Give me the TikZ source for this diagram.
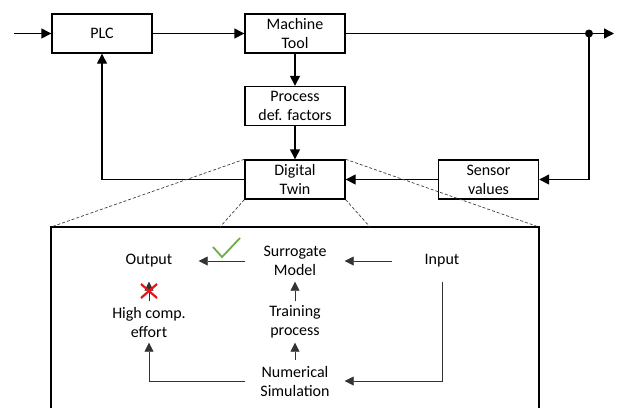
\documentclass[tikz,border=0pt]{standalone}
\usepackage{fontspec}
\setmainfont{Carlito}
\usetikzlibrary{arrows.meta}

\begin{document}
\begin{tikzpicture}[x=1pt, y=-1pt, line width=1.4pt,
  font=\fontsize{16}{19}\selectfont,
  >={Triangle[length=10pt,width=10pt]},
  block/.style={draw, align=center, minimum width=100pt, minimum height=39pt, inner sep=0pt},
  item/.style={align=center, minimum width=98pt, minimum height=40pt, inner sep=0pt},
  thinarrow/.style={line width=0.8pt, draw=black!80, -{Triangle[length=9pt,width=9pt]}},
  zoomline/.style={draw=black!75, line width=0.7pt, dash pattern=on 3pt off 2pt}]
  \useasboundingbox (0,0) rectangle (626,408);

  % control loop
  \node[block] (plc) at (102,33.5) {PLC};
  \node[block] (mach) at (295,33.5) {Machine\\Tool};
  \node[block] (proc) at (295,106) {Process\\def. factors};
  \node[block] (twin) at (295,179.5) {Digital\\Twin};
  \node[block] (sensor) at (488.5,179.5) {Sensor\\values};
  \coordinate (in) at (14,33.5);
  \coordinate (split) at (589,33.5);
  \coordinate (out) at (614,33.5);
  \draw[->] (in) -- (plc);
  \draw[->] (plc) -- (mach);
  \draw (mach) -- (split);
  \draw[->] (split) -- (out);
  \draw[->] (mach) -- (proc);
  \draw[->] (proc) -- (twin);
  \draw[->] (split) |- (sensor);
  \draw[->] (sensor) -- (twin);
  \draw[->] (twin) -| (plc);
  \fill (split) circle (4pt);

  % zoom into the digital twin
  \coordinate (zbl) at (51,408);
  \coordinate (ztl) at (51,227);
  \coordinate (ztr) at (539,227);
  \coordinate (zbr) at (539,408);
  \coordinate (zl) at (220,227);
  \coordinate (zr) at (370,227);
  \draw[line width=1.3pt] (zbl) -- (ztl) -- (ztr) -- (zbr);
  \draw[zoomline] (twin.north west) -- (ztl);
  \draw[zoomline] (twin.south west) -- (zl);
  \draw[zoomline] (twin.south east) -- (zr);
  \draw[zoomline] (twin.north east) -- (ztr);

  \node[item] (outp) at (149,261) {Output};
  \node[item] (sur) at (295,261) {Surrogate\\Model};
  \node[item] (inp) at (442,261) {Input};
  \node[item] (effort) at (149,322) {High comp.\\effort};
  \node[item] (train) at (295,322) {Training\\process};
  \node[item] (sim) at (295,381) {Numerical\\Simulation};
  \draw[thinarrow] (sur) -- (outp);
  \draw[thinarrow] (inp) -- (sur);
  \draw[thinarrow] (train) -- (sur);
  \draw[thinarrow] (sim) -- (train);
  \draw[thinarrow] (effort) -- (outp);
  \draw[thinarrow] (sim) -| (effort);
  \draw[thinarrow] (inp) |- (sim);

  % tick and cross
  \draw[color={rgb,255:red,112;green,173;blue,71}, line width=1.8pt] (213,247) -- (222,257) -- (240,238);
  \draw[color={rgb,255:red,232;green,20;blue,28}, line width=2.2pt] (141,284) -- (157,298) (157,284) -- (141,298);
\end{tikzpicture}
\end{document}
